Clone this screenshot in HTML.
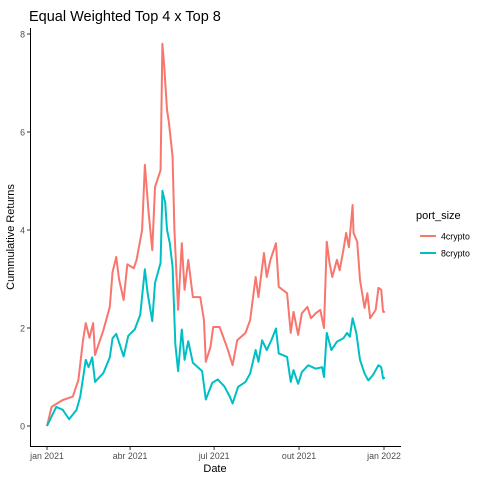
<!DOCTYPE html>
<html><head><meta charset="utf-8"><style>
body{margin:0;background:#fff;}
svg{display:block;font-family:"Liberation Sans",sans-serif;}
</style></head><body>
<svg id="chart" width="480" height="480">
<text x="29" y="21" font-size="14.5" fill="#000">Equal Weighted Top 4 x Top 8</text>
<g id="axes"></g>
<g id="series"></g>
<text x="215" y="472" font-size="11" text-anchor="middle">Date</text>
<text transform="translate(14,237) rotate(-90)" font-size="11" text-anchor="middle">Cummulative Returns</text>
<g>
<text x="416" y="219" font-size="11">port_size</text>
<g><line x1="420" x2="436" y1="236" y2="236" stroke="#F8766D" stroke-width="2"/><text x="441" y="239.5" font-size="8.8">4crypto</text></g>
<g><line x1="420" x2="436" y1="253" y2="253" stroke="#00BFC4" stroke-width="2"/><text x="441" y="256.5" font-size="8.8">8crypto</text></g>
</g>
</svg>
<script>
const redDays=[0,5,17,28,34,39,42,46,50,52,61,68,71,75,78,83,87,94,97,103,106,110,114,117,123,125,127,130,132,136,138,142,146,149,153,158,166,170,172,177,180,187,196,201,206,215,220,226,229,235,238,242,248,251,260,264,267,272,276,282,286,291,296,300,303,306,309,314,317,321,324,327,331,332,336,339,344,347,350,356,359,362,364,366];
const redVals=[0,0.39,0.53,0.6,0.94,1.75,2.1,1.8,2.1,1.45,1.95,2.43,3.14,3.45,3.0,2.57,3.3,3.22,3.39,4.0,5.33,4.37,3.59,4.88,5.22,7.8,7.33,6.45,6.2,5.5,4.0,2.37,3.73,2.78,3.39,2.63,2.63,2.16,1.31,1.61,2.02,2.02,1.55,1.24,1.75,1.9,2.16,3.04,2.63,3.53,3.04,3.39,3.73,2.84,2.71,1.9,2.33,1.86,2.3,2.43,2.2,2.3,2.37,2.0,3.76,3.33,3.04,3.39,3.18,3.59,3.94,3.65,4.51,3.94,3.76,2.98,2.41,2.71,2.2,2.37,2.82,2.78,2.33,2.33];
const cyanDays=[0,10,17,24,32,36,42,45,49,52,61,68,71,75,83,88,95,101,106,109,114,117,123,125,128,130,133,136,139,142,146,149,153,158,168,172,179,185,192,198,201,207,215,220,226,229,233,238,243,248,251,260,264,267,272,276,283,291,298,300,303,308,314,321,325,328,331,335,339,344,348,353,359,362,364,366];
const cyanVals=[0,0.39,0.33,0.14,0.33,0.6,1.35,1.2,1.4,0.9,1.08,1.4,1.79,1.88,1.42,1.84,1.97,2.27,3.2,2.71,2.14,2.92,3.33,4.8,4.56,4.0,3.73,3.25,1.67,1.12,1.97,1.35,1.73,1.29,1.12,0.54,0.88,0.95,0.81,0.6,0.46,0.8,0.9,1.07,1.55,1.31,1.75,1.55,1.75,1.99,1.48,1.41,0.9,1.14,0.86,1.1,1.24,1.17,1.2,1.0,1.9,1.55,1.72,1.79,1.9,1.82,2.2,1.9,1.35,1.07,0.93,1.04,1.24,1.2,0.97,0.99];
const yTicks=[0,2,4,6,8];
const xTickDays=[0,90,181,273,365];
const xTickLabels=["jan 2021","abr 2021","jul 2021","out 2021","jan 2022"];
const xs=d=>47+d*(337/365);
const ys=v=>426-v*49;
const NS="http://www.w3.org/2000/svg";
const axes=document.getElementById('axes');
const ser=document.getElementById('series');
function mk(t,a,p){const e=document.createElementNS(NS,t);for(const k in a)e.setAttribute(k,a[k]);p.appendChild(e);return e;}
let l=mk('line',{x1:30.5,x2:30.5,y1:28,y2:446.5,stroke:'#000','stroke-width':1},axes);


l=mk('line',{x1:30,x2:401,y1:446.5,y2:446.5,stroke:'#000','stroke-width':1},axes);


yTicks.forEach(v=>{
  mk('line',{x1:27,x2:30,y1:ys(v),y2:ys(v),stroke:'#333'},axes);
  const t=mk('text',{x:25,y:ys(v)+3.5,'font-size':8.8,'text-anchor':'end',fill:'#4d4d4d'},axes);
  t.textContent=v;
  
  
});
xTickDays.forEach((d,i)=>{
  mk('line',{x1:xs(d),x2:xs(d),y1:447,y2:450,stroke:'#333'},axes);
  const t=mk('text',{x:xs(d),y:459,'font-size':8.8,'text-anchor':'middle',fill:'#4d4d4d'},axes);
  t.textContent=xTickLabels[i];
  
  
});
function line(days,vals,col,name){
  const p=mk('polyline',{points:days.map((d,i)=>xs(d)+','+ys(vals[i])).join(' '),fill:'none',stroke:col,'stroke-width':2,'stroke-linejoin':'round'},ser);
  
  
}
line(redDays,redVals,'#F8766D','series-4crypto');
line(cyanDays,cyanVals,'#00BFC4','series-8crypto');
</script>
</body></html>
